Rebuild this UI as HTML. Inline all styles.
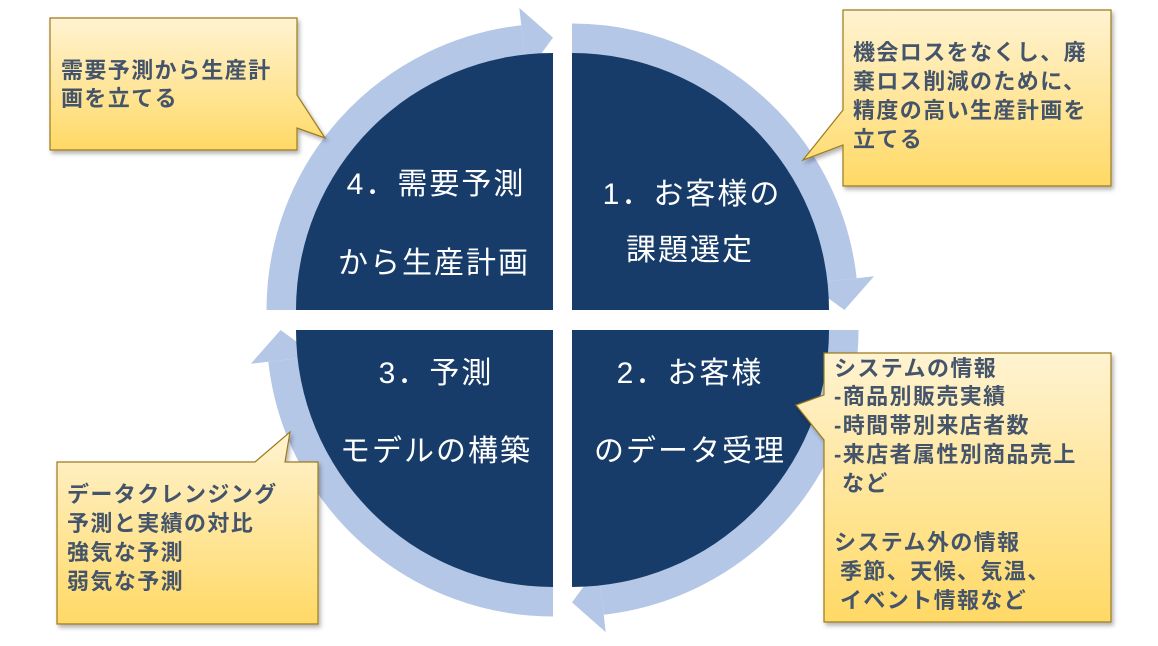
<!DOCTYPE html>
<html><head><meta charset="utf-8"><style>
html,body{margin:0;padding:0;background:#fff;}
svg{display:block;}
text{font-family:"Liberation Sans","Noto Sans CJK JP",sans-serif;}
.w{fill:#fff;font-size:30px;letter-spacing:2px;}
.c{fill:#44546a;font-size:22px;font-weight:bold;letter-spacing:1.4px;}
</style></head><body>
<svg width="1158" height="646" viewBox="0 0 1158 646" xmlns="http://www.w3.org/2000/svg">
<defs>
<linearGradient id="g" x1="0" y1="0" x2="0" y2="1">
<stop offset="0" stop-color="#fff3d1"/><stop offset="1" stop-color="#ffd966"/></linearGradient>
<filter id="s" x="-10%" y="-10%" width="130%" height="130%"><feDropShadow dx="2" dy="3" stdDeviation="2" flood-color="#000" flood-opacity="0.3"/></filter>
<g id="arr">
<path d="M-271,0 A271,271 0 0 1 -30,-269.3" fill="none" stroke="#b4c7e7" stroke-width="31"/>
<polygon points="-33.7,-302.1 -26.3,-236.5 0,-272.4" fill="#b4c7e7"/>
</g>
</defs>
<use href="#arr" transform="translate(553,310)"/>
<use href="#arr" transform="translate(572,310) rotate(90)"/>
<use href="#arr" transform="translate(572,330) rotate(180)"/>
<use href="#arr" transform="translate(553,330) rotate(270)"/>
<g fill="#173c69">
<path d="M553,310 L296,310 A257,257 0 0 1 553,53 Z"/>
<path d="M572,310 L572,53 A257,257 0 0 1 829,310 Z"/>
<path d="M572,330 L829,330 A257,257 0 0 1 572,587 Z"/>
<path d="M553,330 L553,587 A257,257 0 0 1 296,330 Z"/>
</g>
<g class="w" text-anchor="middle">
<text x="436" y="194">4．需要予測</text>
<text x="434" y="273">から生産計画</text>
<text x="692" y="204">1．お客様の</text>
<text x="690" y="260">課題選定</text>
<text x="436" y="383">3．予測</text>
<text x="436" y="461">モデルの構築</text>
<text x="690" y="383">2．お客様</text>
<text x="690" y="461">のデータ受理</text>
</g>
<g fill="url(#g)" stroke="#9c7a1a" stroke-width="1.2" filter="url(#s)">
<path d="M50,18 H297 V95 L325,138 L297,128 V150 H50 Z"/>
<path d="M843,10 H1111 V186 H843 V145 L803,160 L843,110 Z"/>
<path d="M824,353 H1111 V622 H824 V440 L796,405 L824,395 Z"/>
<path d="M57,462 H255 L290,432 L285,462 H318 V624 H57 Z"/>
</g>
<g class="c">
<text x="61" y="78">需要予測から生産計</text>
<text x="61" y="106">画を立てる</text>
<text x="853" y="60">機会ロスをなくし、廃</text>
<text x="853" y="89">棄ロス削減のために、</text>
<text x="853" y="118">精度の高い生産計画を</text>
<text x="853" y="147">立てる</text>
<text x="834" y="376">システムの情報</text>
<text x="834" y="404">-商品別販売実績</text>
<text x="834" y="433">-時間帯別来店者数</text>
<text x="834" y="462">-来店者属性別商品売上</text>
<text x="842" y="491">など</text>
<text x="834" y="550">システム外の情報</text>
<text x="840" y="579">季節、天候、気温、</text>
<text x="840" y="608">イベント情報など</text>
<text x="67" y="502">データクレンジング</text>
<text x="67" y="531">予測と実績の対比</text>
<text x="67" y="560">強気な予測</text>
<text x="67" y="589">弱気な予測</text>
</g>
</svg>
</body></html>
